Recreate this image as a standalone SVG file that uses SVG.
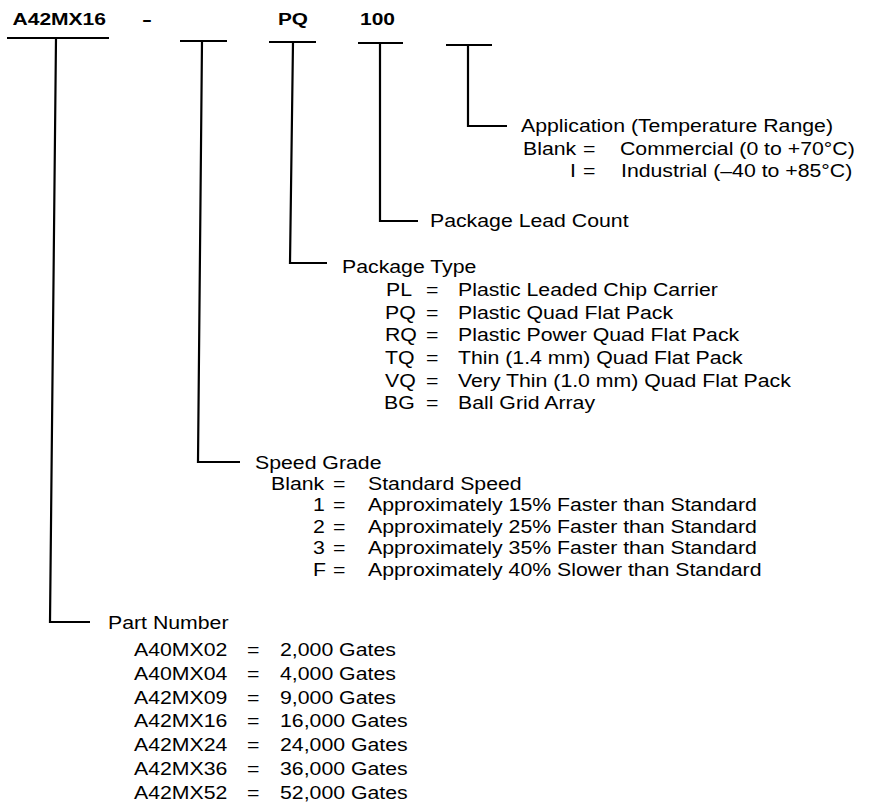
<svg xmlns="http://www.w3.org/2000/svg" width="872" height="809" viewBox="0 0 872 809">
<style>
.hdr{font-family:"Liberation Sans",Arial,sans-serif;font-weight:bold;font-size:16px;fill:#000}
.lbl{font-family:"Liberation Sans",Arial,sans-serif;font-size:18.5px;fill:#000}
.ln{stroke:#000;stroke-width:2.2;fill:none;stroke-linecap:butt;stroke-linejoin:miter}
</style>
<rect width="872" height="809" fill="#fff"/>
<g id="code">
<text class="hdr" x="12.5" y="25" textLength="93.5" lengthAdjust="spacingAndGlyphs">A42MX16</text>
<text class="hdr" x="142" y="25" textLength="10" lengthAdjust="spacingAndGlyphs">-</text>
<text class="hdr" x="278" y="25" textLength="30" lengthAdjust="spacingAndGlyphs">PQ</text>
<text class="hdr" x="360" y="25" textLength="35" lengthAdjust="spacingAndGlyphs">100</text>
</g>
<g id="connectors">
<path class="ln" d="M7 38H109M56 38L50 622H90"/>
<path class="ln" d="M180 41H227M202 41L198 462H240"/>
<path class="ln" d="M269 42H316M293 42L290 263H327"/>
<path class="ln" d="M358 43H403M380 43L380 221H418"/>
<path class="ln" d="M446 45H492M468 45L468 126H507"/>
</g>
<g id="application" transform="scale(1.15 1)">
<text class="lbl" x="453.04" y="132">Application (Temperature Range)</text>
<text class="lbl" x="454.78" y="155">Blank</text><text class="lbl" x="506.96" y="155">=</text><text class="lbl" x="539.13" y="155">Commercial (0 to +70°C)</text>
<text class="lbl" x="495.65" y="177.5">I</text><text class="lbl" x="506.96" y="177.5">=</text><text class="lbl" x="540" y="177.5">Industrial (–40 to +85°C)</text>
</g>
<g id="lead-count" transform="scale(1.15 1)">
<text class="lbl" x="373.91" y="227">Package Lead Count</text>
</g>
<g id="package-type" transform="scale(1.15 1)">
<text class="lbl" x="297.39" y="273">Package Type</text>
<text class="lbl" x="335.65" y="296">PL</text><text class="lbl" x="370.43" y="296">=</text><text class="lbl" x="398.26" y="296">Plastic Leaded Chip Carrier</text>
<text class="lbl" x="334.78" y="319">PQ</text><text class="lbl" x="370.43" y="319">=</text><text class="lbl" x="398.26" y="319">Plastic Quad Flat Pack</text>
<text class="lbl" x="334.78" y="341.5">RQ</text><text class="lbl" x="370.43" y="341.5">=</text><text class="lbl" x="398.26" y="341.5">Plastic Power Quad Flat Pack</text>
<text class="lbl" x="334.78" y="364">TQ</text><text class="lbl" x="370.43" y="364">=</text><text class="lbl" x="398.26" y="364">Thin (1.4 mm) Quad Flat Pack</text>
<text class="lbl" x="334.78" y="387">VQ</text><text class="lbl" x="370.43" y="387">=</text><text class="lbl" x="398.26" y="387">Very Thin (1.0 mm) Quad Flat Pack</text>
<text class="lbl" x="333.91" y="409.5">BG</text><text class="lbl" x="370.43" y="409.5">=</text><text class="lbl" x="398.26" y="409.5">Ball Grid Array</text>
</g>
<g id="speed-grade" transform="scale(1.15 1)">
<text class="lbl" x="221.74" y="469">Speed Grade</text>
<text class="lbl" x="235.65" y="490">Blank</text><text class="lbl" x="289.57" y="490">=</text><text class="lbl" x="320" y="490">Standard Speed</text>
<text class="lbl" x="272.17" y="511.5">1</text><text class="lbl" x="289.57" y="511.5">=</text><text class="lbl" x="320" y="511.5">Approximately 15% Faster than Standard</text>
<text class="lbl" x="272.17" y="533">2</text><text class="lbl" x="289.57" y="533">=</text><text class="lbl" x="320" y="533">Approximately 25% Faster than Standard</text>
<text class="lbl" x="272.17" y="554.5">3</text><text class="lbl" x="289.57" y="554.5">=</text><text class="lbl" x="320" y="554.5">Approximately 35% Faster than Standard</text>
<text class="lbl" x="272.17" y="576">F</text><text class="lbl" x="289.57" y="576">=</text><text class="lbl" x="320" y="576">Approximately 40% Slower than Standard</text>
</g>
<g id="part-number" transform="scale(1.15 1)">
<text class="lbl" x="93.91" y="629">Part Number</text>
<text class="lbl" x="116.52" y="656">A40MX02</text><text class="lbl" x="214.78" y="656">=</text><text class="lbl" x="243.48" y="656">2,000 Gates</text>
<text class="lbl" x="116.52" y="679.8">A40MX04</text><text class="lbl" x="214.78" y="679.8">=</text><text class="lbl" x="243.48" y="679.8">4,000 Gates</text>
<text class="lbl" x="116.52" y="703.6">A42MX09</text><text class="lbl" x="214.78" y="703.6">=</text><text class="lbl" x="243.48" y="703.6">9,000 Gates</text>
<text class="lbl" x="116.52" y="727.4">A42MX16</text><text class="lbl" x="214.78" y="727.4">=</text><text class="lbl" x="243.48" y="727.4">16,000 Gates</text>
<text class="lbl" x="116.52" y="751.2">A42MX24</text><text class="lbl" x="214.78" y="751.2">=</text><text class="lbl" x="243.48" y="751.2">24,000 Gates</text>
<text class="lbl" x="116.52" y="775">A42MX36</text><text class="lbl" x="214.78" y="775">=</text><text class="lbl" x="243.48" y="775">36,000 Gates</text>
<text class="lbl" x="116.52" y="798.8">A42MX52</text><text class="lbl" x="214.78" y="798.8">=</text><text class="lbl" x="243.48" y="798.8">52,000 Gates</text>
</g>
</svg>
